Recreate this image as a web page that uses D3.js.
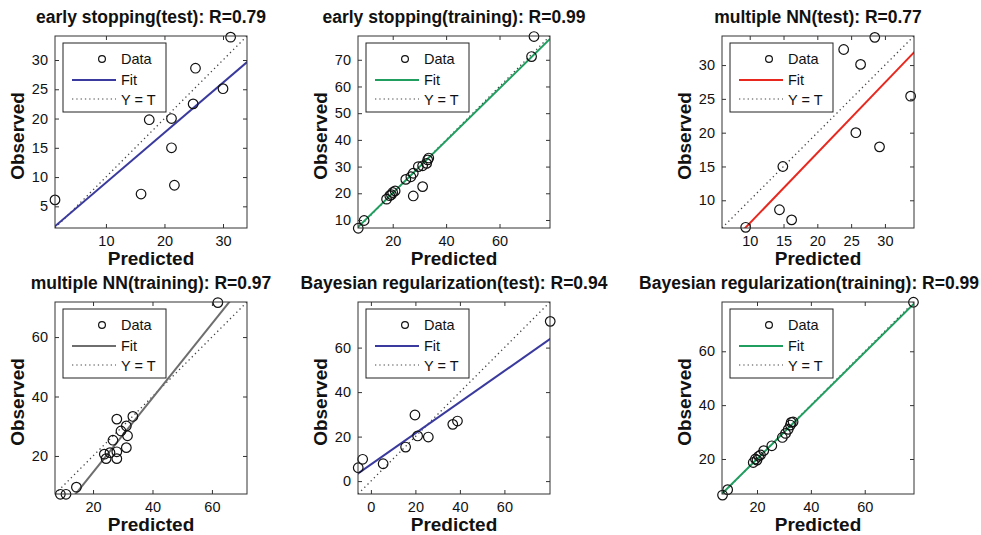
<!DOCTYPE html>
<html>
<head>
<meta charset="utf-8">
<script src="https://cdn.jsdelivr.net/npm/d3@7"></script>
<style>
body { margin: 0; background: #fff; }
text { font-family: "Liberation Sans", Arial, Helvetica, sans-serif; fill: #111; }
</style>
</head>
<body>
<script>
// panel titles
var titles = [
  "early stopping(test): R=0.79",
  "early stopping(training): R=0.99",
  "multiple NN(test): R=0.77",
  "multiple NN(training): R=0.97",
  "Bayesian regularization(test): R=0.94",
  "Bayesian regularization(training): R=0.99"
];

// predicted / observed pairs
var esTestPred = [1.3, 16.0, 17.4, 21.2, 21.2, 21.7, 24.9, 25.3, 30.0, 31.3];
var esTestObs  = [6.1, 7.1, 19.8, 20.0, 15.0, 8.6, 22.5, 28.6, 25.1, 33.9];

var esTrainPred = [7.1, 9.3, 17.7, 18.9, 19.5, 20.0, 20.9, 24.9, 26.8, 27.7, 27.7, 29.6, 31.2, 31.2, 32.7, 33.1, 33.5, 72.0, 72.9];
var esTrainObs  = [6.9, 9.8, 17.8, 19.1, 19.5, 20.3, 20.9, 25.2, 26.2, 19.0, 27.5, 30.0, 30.3, 22.5, 31.2, 32.5, 33.2, 71.2, 78.7];

var mnnTestPred = [9.4, 14.4, 14.9, 16.2, 23.9, 25.7, 26.4, 28.5, 29.2, 33.8];
var mnnTestObs  = [6.0, 8.6, 15.0, 7.1, 32.3, 20.0, 30.1, 34.1, 17.9, 25.4];

var mnnTrainPred = [9.0, 10.9, 14.4, 23.8, 24.4, 25.7, 26.7, 28.0, 28.0, 28.0, 29.4, 31.2, 31.6, 31.2, 33.4, 62.0];
var mnnTrainObs  = [7.1, 7.1, 9.5, 20.6, 19.1, 21.1, 25.3, 21.4, 19.1, 32.4, 28.4, 30.1, 26.8, 22.8, 33.3, 71.6];

var brTestPred = [-5.7, -3.7, 5.5, 15.6, 19.8, 21.0, 25.8, 36.8, 38.9, 80.6];
var brTestObs  = [6.0, 9.8, 7.8, 15.3, 29.7, 20.3, 19.8, 25.5, 27.0, 71.8];

var brTrainPred = [7.2, 9.1, 18.6, 19.4, 20.0, 20.6, 21.3, 22.5, 25.5, 29.4, 30.6, 31.6, 32.4, 32.7, 33.4, 78.1];
var brTrainObs  = [6.6, 8.6, 18.7, 20.0, 19.6, 21.0, 21.5, 23.1, 24.9, 28.0, 29.5, 31.0, 32.6, 33.6, 33.8, 78.2];

// linear fits  Observed = slope*Predicted + intercept
var fitSlopes     = [0.855, 0.98, 1.04, 1.25, 0.70, 0.99];
var fitIntercepts = [0.49, 0.5, -3.8, -10.5, 7.5, 0.2];

// axis limits (same for x and y) and ticks
var limits = [[1.3, 34.1], [7, 78.9], [5.9, 34.3], [7.2, 71.8], [-5.8, 80.5], [7, 78.3]];
var xTicks = [[10, 20, 30], [20, 40, 60], [10, 15, 20, 25, 30], [20, 40, 60], [0, 20, 40, 60], [20, 40, 60]];
var yTicks = [[5, 10, 15, 20, 25, 30], [10, 20, 30, 40, 50, 60, 70], [10, 15, 20, 25, 30], [20, 40, 60], [0, 20, 40, 60], [20, 40, 60]];

var legendLabels = ["Data", "Fit", "Y = T"];

var preds = [esTestPred, esTrainPred, mnnTestPred, mnnTrainPred, brTestPred, brTrainPred];
var obs = [esTestObs, esTrainObs, mnnTestObs, mnnTrainObs, brTestObs, brTrainObs];

var fitColors = ["#3a3a9e", "#1f9e5f", "#e8281e", "#6e6e6e", "#3a3a9e", "#1f9e5f"];

var width = 981, height = 535;
var size = 192;
var colX = [55, 358, 722];
var rowY = [36, 302];

var svg = d3.select("body").append("svg")
  .attr("width", width)
  .attr("height", height);

titles.forEach(function(title, i) {
  var x0 = colX[i % 3], y0 = rowY[Math.floor(i / 3)];
  var g = svg.append("g").attr("transform", "translate(" + x0 + "," + y0 + ")");

  var x = d3.scaleLinear().domain(limits[i]).range([0, size]);
  var y = d3.scaleLinear().domain(limits[i]).range([size, 0]);

  g.append("clipPath").attr("id", "clip" + i)
    .append("rect").attr("width", size).attr("height", size);

  var lines = g.append("g").attr("clip-path", "url(#clip" + i + ")");

  // Y = T
  lines.append("line")
    .attr("x1", x(limits[i][0])).attr("y1", y(limits[i][0]))
    .attr("x2", x(limits[i][1])).attr("y2", y(limits[i][1]))
    .attr("stroke", "#444").attr("stroke-width", 1.3)
    .attr("stroke-dasharray", "1.3,3.2");

  // fit line
  var fit = function(v) { return fitSlopes[i] * v + fitIntercepts[i]; };
  lines.append("line")
    .attr("x1", x(limits[i][0] - 10)).attr("y1", y(fit(limits[i][0] - 10)))
    .attr("x2", x(limits[i][1] + 10)).attr("y2", y(fit(limits[i][1] + 10)))
    .attr("stroke", fitColors[i]).attr("stroke-width", 2);

  // data circles
  g.selectAll("circle.pt")
    .data(preds[i].map(function(p, k) { return [p, obs[i][k]]; }))
    .enter().append("circle")
    .attr("class", "pt")
    .attr("cx", function(d) { return x(d[0]); })
    .attr("cy", function(d) { return y(d[1]); })
    .attr("r", 4.8)
    .attr("fill", "none")
    .attr("stroke", "#111")
    .attr("stroke-width", 1.2);

  // axes, ticks inside on all four sides
  var xb = g.append("g").attr("transform", "translate(0," + size + ")")
    .call(d3.axisBottom(x).tickValues(xTicks[i]).tickSizeInner(-4).tickSizeOuter(0).tickPadding(8));
  var xt = g.append("g")
    .call(d3.axisTop(x).tickValues(xTicks[i]).tickSizeInner(-4).tickSizeOuter(0).tickFormat(""));
  var yl = g.append("g")
    .call(d3.axisLeft(y).tickValues(yTicks[i]).tickSizeInner(-4).tickSizeOuter(0).tickPadding(7));
  var yr = g.append("g").attr("transform", "translate(" + size + ",0)")
    .call(d3.axisRight(y).tickValues(yTicks[i]).tickSizeInner(-4).tickSizeOuter(0).tickFormat(""));
  [xb, xt, yl, yr].forEach(function(a) {
    a.select(".domain").remove();
    a.selectAll("line").attr("stroke", "#333");
    a.selectAll("text").attr("font-size", 14.5).attr("fill", "#222")
      .attr("font-family", "'Liberation Sans', Arial, sans-serif");
  });

  g.append("rect")
    .attr("width", size).attr("height", size)
    .attr("fill", "none").attr("stroke", "#333").attr("stroke-width", 1);

  // legend
  var lg = g.append("g").attr("transform", "translate(8,7)");
  lg.append("rect").attr("width", 103).attr("height", 69)
    .attr("fill", "#fff").attr("stroke", "#222").attr("stroke-width", 1);
  lg.append("circle").attr("cx", 39).attr("cy", 16).attr("r", 3.4)
    .attr("fill", "none").attr("stroke", "#111").attr("stroke-width", 1.2);
  lg.append("line").attr("x1", 9).attr("x2", 53).attr("y1", 37).attr("y2", 37)
    .attr("stroke", fitColors[i]).attr("stroke-width", 2);
  lg.append("line").attr("x1", 9).attr("x2", 53).attr("y1", 56).attr("y2", 56)
    .attr("stroke", "#444").attr("stroke-width", 1.2).attr("stroke-dasharray", "1.3,3");
  lg.selectAll("text.lab").data(legendLabels).enter().append("text")
    .attr("class", "lab")
    .attr("x", 58)
    .attr("y", function(d, k) { return 16 + k * 20.5; })
    .attr("dy", "0.36em")
    .attr("font-size", 14.5)
    .text(function(d) { return d; });

  // title, kept inside the page
  var t = g.append("text")
    .attr("x", size / 2).attr("y", -13)
    .attr("text-anchor", "middle")
    .attr("font-size", 17.5).attr("font-weight", "bold")
    .text(title);
  var tw = t.node().getComputedTextLength();
  var overflow = x0 + size / 2 + tw / 2 - (width - 2);
  if (overflow > 0) t.attr("x", size / 2 - overflow);

  g.append("text")
    .attr("x", size / 2).attr("y", size + 37)
    .attr("text-anchor", "middle")
    .attr("font-size", 19).attr("font-weight", "bold")
    .text("Predicted");

  g.append("text")
    .attr("transform", "translate(-31," + (size / 2 + 4) + ") rotate(-90)")
    .attr("text-anchor", "middle")
    .attr("font-size", 19).attr("font-weight", "bold")
    .text("Observed");
});
</script>
</body>
</html>
